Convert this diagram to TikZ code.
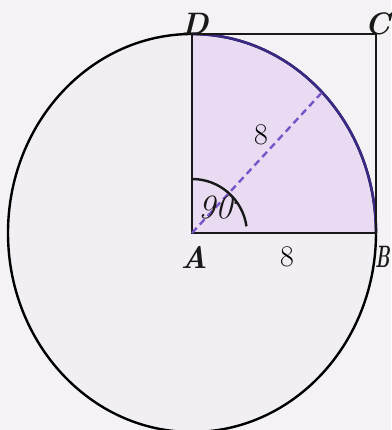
\documentclass[tikz,border=0pt]{standalone}
\usepackage{fontspec}
\usetikzlibrary{calc}
\begin{document}
\begin{tikzpicture}[x=1pt,y=1pt,
  lbl/.style={inner sep=0pt,font=\fontsize{31}{33}\selectfont\bfseries\itshape,text=black!90},
  num/.style={inner sep=0pt,font=\fontsize{30}{32}\selectfont,text=black},
  edge/.style={draw=black!90,line width=2.6pt}]
\definecolor{bgc}{HTML}{F4F2F4}
\definecolor{ellfill}{HTML}{F1EEF4}
\definecolor{quarter}{HTML}{E9DCF2}
\definecolor{arcc}{HTML}{3A2A86}
\definecolor{dashc}{HTML}{7755C8}
\useasboundingbox (0,0) rectangle (391,430);
\fill[bgc] (0,0) rectangle (391,430);
\coordinate (A) at (192,197);
\coordinate (B) at (376,197);
\coordinate (C) at (376,396);
\coordinate (D) at (192,396);
\coordinate (E) at ($(A)+(130.1,140.7)$);
% ellipse
\fill[ellfill] (A) ellipse [x radius=184, y radius=199];
% quarter region
\fill[quarter] (A) -- (B) arc[start angle=0,end angle=90,x radius=184,y radius=199] -- cycle;
\draw[line width=2.4pt] (A) ellipse [x radius=184, y radius=199];
\draw[arcc,line width=2.6pt] (B) arc[start angle=0,end angle=90,x radius=184,y radius=199];
% square
\draw[edge] (A) -- (B) -- (C) -- (D) -- cycle;
% dashed radius
\draw[dashc,line width=2.4pt,dash pattern=on 7pt off 4.5pt] (A) -- (E);
% angle mark
\draw[black!90,line width=2.4pt] ($(A)+(0,54)$) arc[start angle=90,end angle=8,radius=55];
\node[inner sep=0pt,font=\fontsize{34}{36}\selectfont\itshape,text=black!90] (ang) at (219,222) {90$^{\cdot}$};
% labels
\node[lbl] (lD) at (195,406) {D};
\node[lbl,anchor=east] (lC) at (390.5,406) {C};
\node[lbl] (lA) at (194,173) {A};
\node[lbl,anchor=east] (lB) at (390,173) {\scalebox{0.58}[1]{B}};
\node[num] (lAB) at (287,173) {8};
\node[num] (lr) at (261,295) {8};
\end{tikzpicture}
\end{document}
